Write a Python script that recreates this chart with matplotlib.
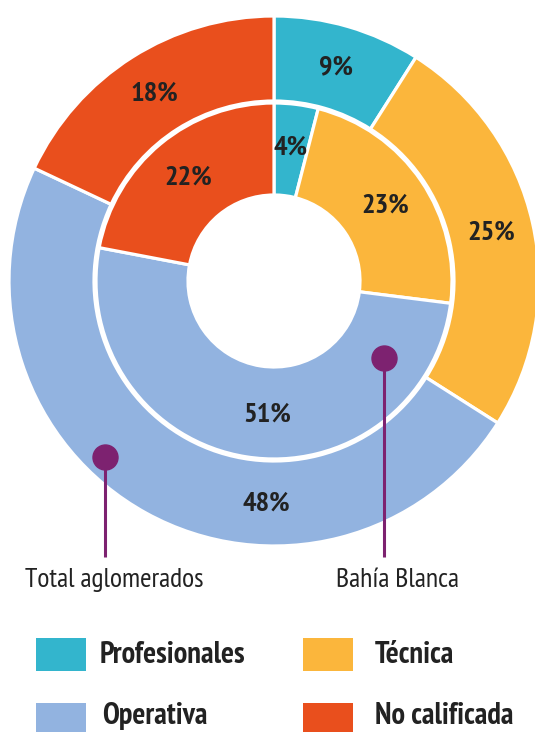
import matplotlib
matplotlib.use("Agg")
import matplotlib.pyplot as plt
import numpy as np
from matplotlib.patches import Rectangle

# datos
categorias = ["Profesionales", "Técnica", "Operativa", "No calificada"]
total_aglomerados = [9, 25, 48, 18]
bahia_blanca = [4, 23, 51, 22]
colores = ["#33B5CD", "#FBB63C", "#92B3E0", "#E94F1D"]
series = ["Total aglomerados", "Bahía Blanca"]

plt.rcParams['font.family'] = ['PT Sans Narrow', 'DejaVu Sans']

W, H = 535, 732
fig = plt.figure(figsize=(W / 100, H / 100), dpi=100)
ax = fig.add_axes([0, 0, 1, 1])

cx, cy = 274, H - 281
r_ext, r_ext_in = 265, 180
r_int, r_int_in = 178, 86

# anillo exterior: total aglomerados
w_ext, _ = ax.pie(total_aglomerados, colors=colores, radius=r_ext, center=(cx, cy),
                  startangle=90, counterclock=False, frame=True,
                  wedgeprops=dict(width=r_ext - r_ext_in, edgecolor="white", linewidth=2.3))
# anillo interior: Bahía Blanca
w_int, _ = ax.pie(bahia_blanca, colors=colores, radius=r_int, center=(cx, cy),
                  startangle=90, counterclock=False, frame=True,
                  wedgeprops=dict(width=r_int - r_int_in, edgecolor="white", linewidth=2.3))
ax.set_xlim(0, W)
ax.set_ylim(0, H)
ax.set_aspect("equal")
ax.axis("off")


def etiquetas(wedges, valores, r_mid, fijo=None):
    fijo = fijo or {}
    for i, (w, v) in enumerate(zip(wedges, valores)):
        ang = fijo.get(i, (w.theta1 + w.theta2) / 2)
        x = cx + r_mid * np.cos(np.radians(ang))
        y = cy + r_mid * np.sin(np.radians(ang))
        ax.text(x, y, f"{v}%", ha="center", va="center", fontsize=20.5,
                fontweight="bold", color="#222222")


etiquetas(w_ext, total_aglomerados, (r_ext + r_ext_in) / 2, fijo={2: -92})
etiquetas(w_int, bahia_blanca, (r_int + r_int_in) / 2 + 2, fijo={2: -93})

# marcadores de series
morado = "#7D2270"
for (px, py_dot), nombre, tx in zip([(105, 457), (384, 358)], series, [114, 397]):
    ax.plot([px, px], [H - py_dot, H - 557], color=morado, lw=2.2, solid_capstyle="butt")
    ax.plot(px, H - py_dot, "o", color=morado, markersize=18)
    ax.text(tx, H - 580, nombre, ha="center", va="center", fontsize=20, color="#222222")

# leyenda (la fila de abajo queda pegada al borde, como en el original)
pos_leyenda = [(36, 638), (303, 638), (36, 703), (303, 703)]
pos_texto = [(100, 655), (375, 655), (102, 716), (375, 716)]
for (lx, ly), (tx, ty), cat, col in zip(pos_leyenda, pos_texto, categorias, colores):
    ax.add_patch(Rectangle((lx, H - ly - 33), 50, 33, color=col, lw=0))
    ax.text(tx, H - ty, cat, ha="left", va="center", fontsize=22,
            fontweight="bold", color="#222222")

fig.savefig("out.png", dpi=100)
